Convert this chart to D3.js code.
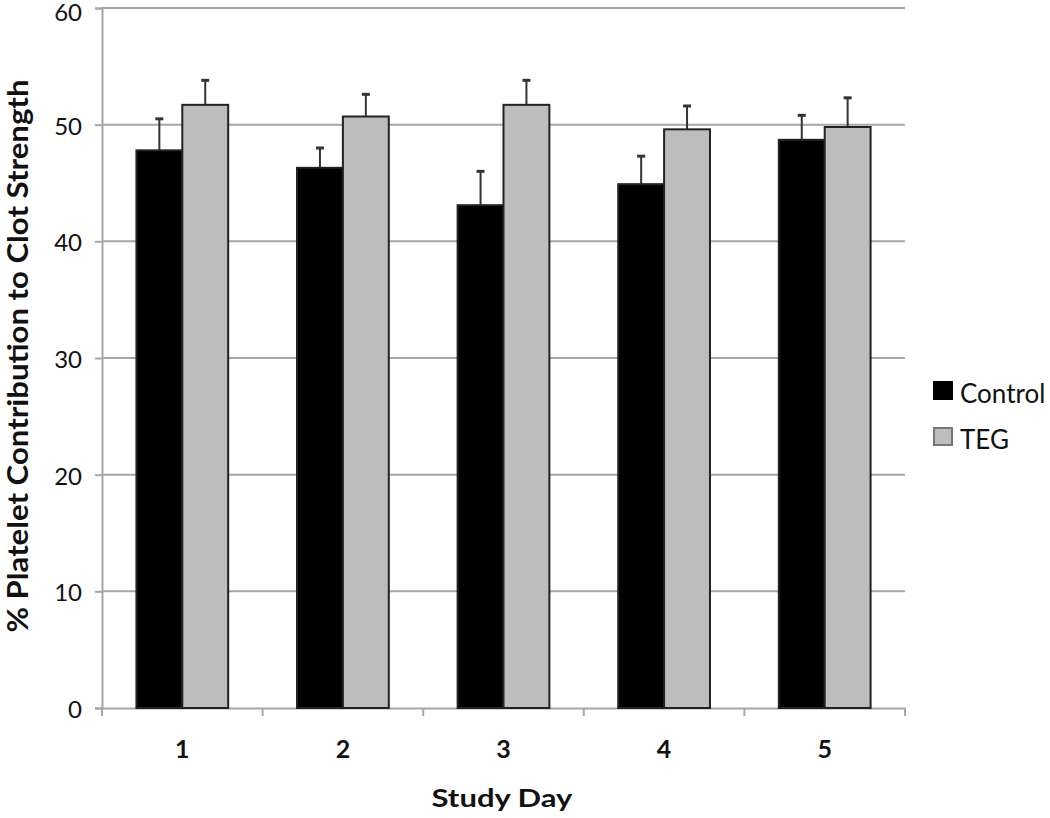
<!DOCTYPE html>
<html><head><meta charset="utf-8">
<script src="https://cdn.jsdelivr.net/npm/d3@7"></script>
<style>body{margin:0;background:#fff;} svg{display:block;}</style>
</head><body><svg id="c" width="1050" height="818"></svg>
<script>
const categories = ["1","2","3","4","5"];
const seriesNames = ["Control","TEG"];
const controlValues = [47.8, 46.3, 43.1, 44.9, 48.7];
const controlErrors = [2.7, 1.7, 2.9, 2.4, 2.1];
const tegValues = [51.7, 50.7, 51.7, 49.6, 49.8];
const tegErrors = [2.1, 1.9, 2.1, 2.0, 2.5];
const yTicks = [0,10,20,30,40,50,60];

const svg = d3.select("#c");
const m = {l:102, r:905, t:8, b:708};
const font = "Lato, 'Open Sans', sans-serif";
const x = d3.scaleBand().domain(categories).range([m.l, m.r]).paddingInner(0).paddingOuter(0);
const x1 = d3.scaleBand().domain(seriesNames).range([0, x.bandwidth()]).paddingInner(0).paddingOuter(0.75);
const y = d3.scaleLinear().domain([0,60]).range([m.b, m.t]);
const colors = {Control:"#000000", TEG:"#bdbdbd"};

// gridlines
svg.append("g").selectAll("line").data(yTicks.filter(d=>d>0)).join("line")
  .attr("x1", m.l).attr("x2", m.r).attr("y1", d=>y(d)).attr("y2", d=>y(d))
  .attr("stroke","#a6a6a6").attr("stroke-width",2);

// y axis
const ya = svg.append("g").attr("transform",`translate(${m.l},0)`)
  .call(d3.axisLeft(y).tickValues(yTicks).tickSize(7).tickPadding(13));
ya.select(".domain").attr("stroke","#a6a6a6").attr("stroke-width",2);
ya.selectAll(".tick line").attr("stroke","#a6a6a6").attr("stroke-width",2);
ya.selectAll("text").attr("font-family",font).attr("font-size",24).attr("fill","#111")
  .attr("dy", d => d===60 ? "0.52em" : "0.4em");

// x axis
const xa = svg.append("g").attr("transform",`translate(0,${m.b})`)
  .call(d3.axisBottom(x).tickSize(0).tickPadding(32));
xa.select(".domain").attr("stroke","#a6a6a6").attr("stroke-width",2);
xa.selectAll("text").attr("font-family",font).attr("font-size",25).attr("font-weight","bold").attr("fill","#111");
// category boundary ticks
svg.append("g").selectAll("line").data(categories.concat(["end"])).join("line")
  .attr("x1",(d,i)=> i<categories.length ? x(d) : m.r)
  .attr("x2",(d,i)=> i<categories.length ? x(d) : m.r)
  .attr("y1", m.b).attr("y2", m.b+8).attr("stroke","#a6a6a6").attr("stroke-width",2);

const data = categories.map((c,i)=>({c, vals:[
  {s:"Control", v:controlValues[i], e:controlErrors[i]},
  {s:"TEG", v:tegValues[i], e:tegErrors[i]}]}));

const g = svg.append("g").selectAll("g").data(data).join("g")
  .attr("transform", d=>`translate(${x(d.c)},0)`);
// error bars
g.selectAll("line.err").data(d=>d.vals).join("line").attr("class","err")
  .attr("x1", d=>x1(d.s)+x1.bandwidth()/2).attr("x2", d=>x1(d.s)+x1.bandwidth()/2)
  .attr("y1", d=>y(d.v)).attr("y2", d=>y(d.v+d.e)).attr("stroke","#333").attr("stroke-width",2);
g.selectAll("line.cap").data(d=>d.vals).join("line").attr("class","cap")
  .attr("x1", d=>x1(d.s)+x1.bandwidth()/2-4).attr("x2", d=>x1(d.s)+x1.bandwidth()/2+4)
  .attr("y1", d=>y(d.v+d.e)).attr("y2", d=>y(d.v+d.e)).attr("stroke","#333").attr("stroke-width",3);
g.selectAll("rect").data(d=>d.vals).join("rect")
  .attr("x", d=>x1(d.s)).attr("width", x1.bandwidth())
  .attr("y", d=>y(d.v)).attr("height", d=>y(0)-y(d.v))
  .attr("fill", d=>colors[d.s]).attr("stroke","#222").attr("stroke-width",2);

// axis titles
svg.append("text").attr("x",502).attr("y",807).attr("text-anchor","middle")
  .attr("font-family",font).attr("font-size",25).attr("font-weight","bold").attr("fill","#111")
  .attr("textLength",141).attr("lengthAdjust","spacingAndGlyphs").text("Study Day");
svg.append("text").attr("transform",`translate(28,356) rotate(-90)`).attr("text-anchor","middle")
  .attr("font-family",font).attr("font-size",28).attr("font-weight","bold").attr("fill","#111")
  .attr("textLength",553).attr("lengthAdjust","spacingAndGlyphs")
  .text("% Platelet Contribution to Clot Strength");

// legend
const lg = svg.append("g").selectAll("g").data(seriesNames).join("g")
  .attr("transform",(d,i)=>`translate(934,${382+i*46})`);
lg.append("rect").attr("width",18).attr("height",17).attr("fill",d=>colors[d])
  .attr("stroke",d=>d==="TEG"?"#777":"#000").attr("stroke-width",2);
lg.append("text").attr("x",26).attr("y",21).attr("font-family",font).attr("font-size",26)
  .attr("fill","#111").text(d=>d);
</script></body></html>
